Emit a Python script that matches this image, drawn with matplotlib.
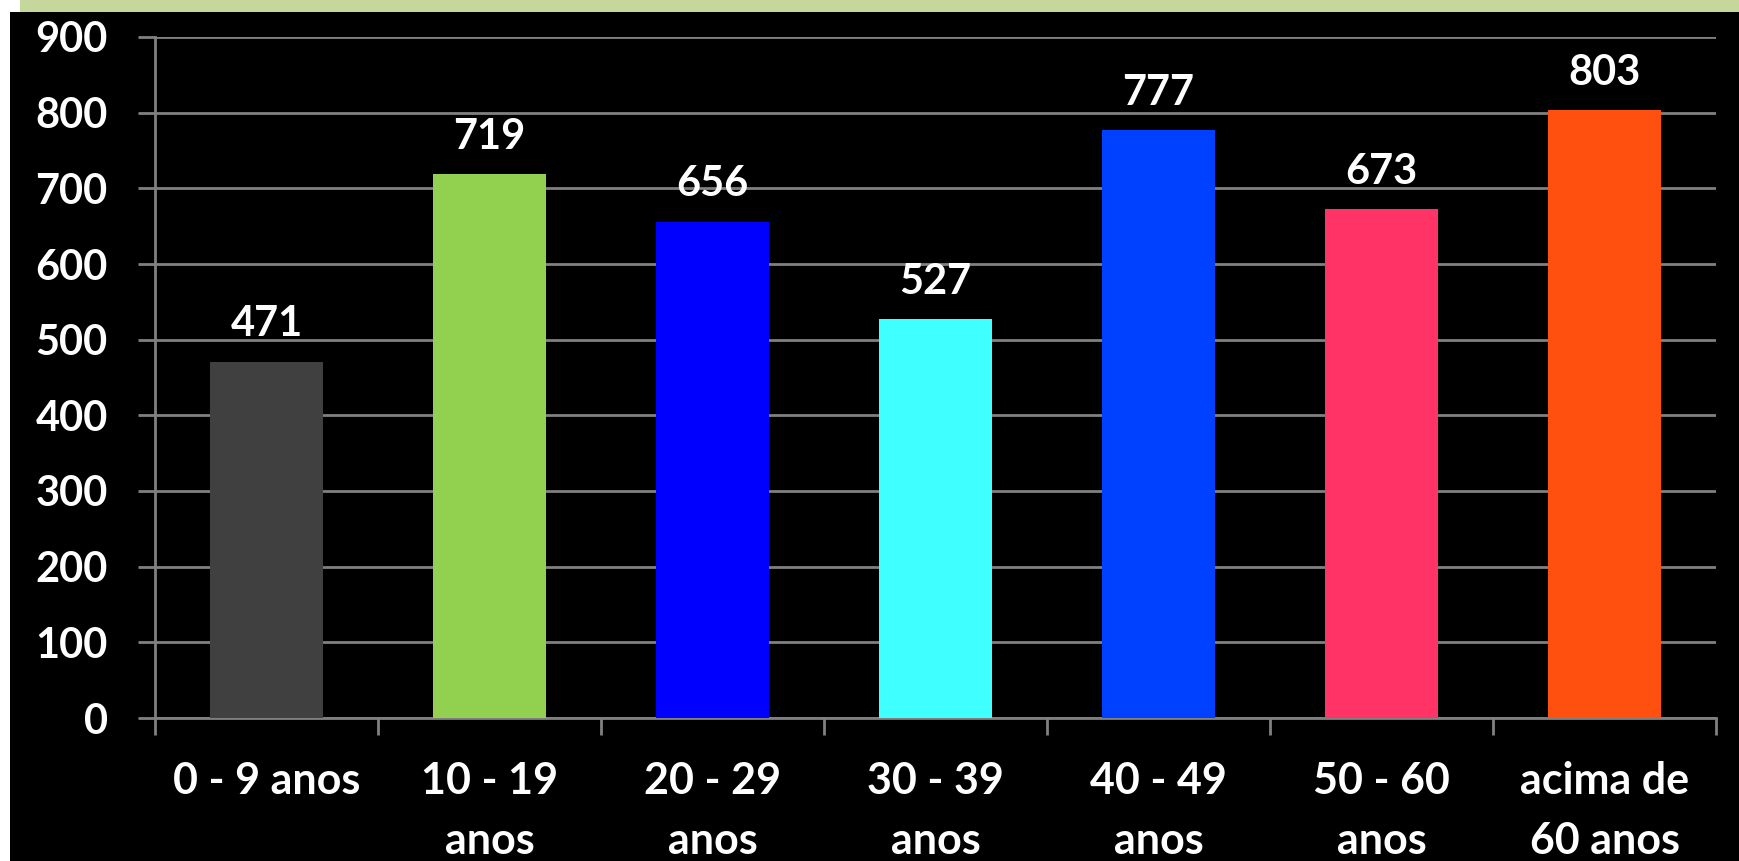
import matplotlib
matplotlib.use("Agg")
import matplotlib.pyplot as plt
from matplotlib.patches import Rectangle
from matplotlib.ticker import FixedLocator, MultipleLocator

# faixas etarias e valores
faixas = ["0 - 9 anos", "10 - 19\nanos", "20 - 29\nanos", "30 - 39\nanos",
          "40 - 49\nanos", "50 - 60\nanos", "acima de\n60 anos"]
valores = [471, 719, 656, 527, 777, 673, 803]
cores = ["#404040", "#92D050", "#0000FF", "#40FFFF", "#0040FF", "#FF3366", "#FF5010"]

plt.rcParams['font.family'] = ['Lato', 'DejaVu Sans']
plt.rcParams['font.weight'] = 'bold'

W, H = 1739, 861
fig = plt.figure(figsize=(W / 100, H / 100), dpi=100, facecolor="white")

# faixa verde no topo e fundo preto
fig.patches.append(Rectangle((20 / W, 1 - 12 / H), 1, 12 / H, transform=fig.transFigure,
                             facecolor="#C5D79B", edgecolor="none", zorder=-10))
fig.patches.append(Rectangle((10 / W, 0), 1, 1 - 12 / H, transform=fig.transFigure,
                             facecolor="black", edgecolor="none", zorder=-10))

ax = fig.add_axes([155 / W, 1 - 718 / H, (1716 - 155) / W, (718 - 37) / H])
ax.set_facecolor("none")

x = list(range(len(valores)))
bars = ax.bar(x, valores, width=0.51, color=cores, zorder=3)
for b, v in zip(bars, valores):
    ax.text(b.get_x() + b.get_width() / 2, v + 24, str(v), ha="center", va="bottom",
            color="white", fontsize=30, fontweight="bold")

ax.set_xlim(-0.5, len(valores) - 0.5)
ax.set_ylim(0, 900)
ax.yaxis.set_major_locator(MultipleLocator(100))
ax.grid(axis="y", color="#808080", linewidth=2, zorder=0)

for s in ["top", "right"]:
    ax.spines[s].set_visible(False)
ax.spines["left"].set_color("#808080")
ax.spines["left"].set_linewidth(2)
ax.spines["bottom"].set_color("#808080")
ax.spines["bottom"].set_linewidth(2)

ax.set_xticks(x)
ax.set_xticklabels(faixas)
ax.xaxis.set_minor_locator(FixedLocator([i - 0.5 for i in range(len(valores) + 1)]))
ax.tick_params(axis="x", which="major", length=0, pad=31, labelsize=31, labelcolor="white")
ax.tick_params(axis="x", which="minor", length=12, width=2, color="#808080")
ax.tick_params(axis="y", length=12, width=2, color="#808080", pad=22,
               labelsize=30, labelcolor="white")
for lbl in ax.get_xticklabels() + ax.get_yticklabels():
    lbl.set_fontweight("bold")
for lbl in ax.get_xticklabels():
    lbl.set_linespacing(1.6)

fig.savefig("out.png", dpi=100, facecolor="white")
